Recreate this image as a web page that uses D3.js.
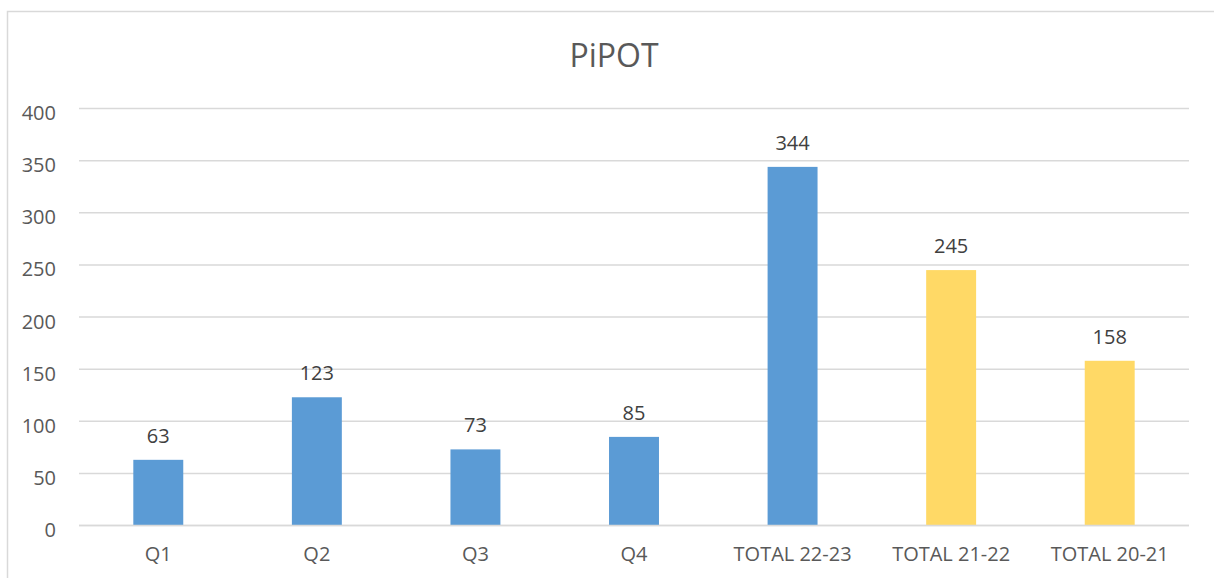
<!DOCTYPE html>
<html>
<head>
<meta charset="utf-8">
<script src="https://cdn.jsdelivr.net/npm/d3@7"></script>
<style>
  body { margin: 0; background: #fff; }
  text { font-family: "Open Sans", "Noto Sans", sans-serif; }
</style>
</head>
<body>
<div id="chart"></div>
<script>
// data
const categories = ["Q1", "Q2", "Q3", "Q4", "TOTAL 22-23", "TOTAL 21-22", "TOTAL 20-21"]
const values = [63, 123, 73, 85, 344, 245, 158]
const barColors = ["#5B9BD5", "#5B9BD5", "#5B9BD5", "#5B9BD5", "#5B9BD5", "#FFD966", "#FFD966"]
const yTicks = [0, 50, 100, 150, 200, 250, 300, 350, 400]

function drawBarChart() {
  let dimensions = {
    width: 1214,
    height: 578,
    margin: { top: 108.5, right: 25, bottom: 52.5, left: 79 },
  }
  dimensions.boundedWidth = dimensions.width - dimensions.margin.left - dimensions.margin.right
  dimensions.boundedHeight = dimensions.height - dimensions.margin.top - dimensions.margin.bottom

  const wrapper = d3.select("#chart")
    .append("svg")
      .attr("width", dimensions.width)
      .attr("height", dimensions.height)

  // chart frame
  wrapper.append("rect")
    .attr("x", 7.5)
    .attr("y", 11.5)
    .attr("width", 1250)
    .attr("height", 620)
    .attr("fill", "none")
    .attr("stroke", "#d9d9d9")
    .attr("stroke-width", 1.5)

  wrapper.append("text")
    .attr("x", 614)
    .attr("y", 67)
    .attr("text-anchor", "middle")
    .attr("fill", "#595959")
    .style("font-size", "32px")
    .text("PiPOT")

  const bounds = wrapper.append("g")
    .attr("transform", `translate(${dimensions.margin.left},${dimensions.margin.top})`)

  const yScale = d3.scaleLinear()
    .domain([0, 400])
    .range([dimensions.boundedHeight, 0])

  const xScale = d3.scaleBand()
    .domain(categories)
    .range([0, dimensions.boundedWidth])
    .paddingInner(0.685)
    .paddingOuter(0.3425)

  // gridlines
  bounds.selectAll(".grid")
    .data(yTicks)
    .join("line")
      .attr("class", "grid")
      .attr("x1", 0)
      .attr("x2", dimensions.boundedWidth)
      .attr("y1", d => yScale(d))
      .attr("y2", d => yScale(d))
      .attr("stroke", "#d9d9d9")
      .attr("stroke-width", 1.5)

  // y axis labels
  const yAxisGenerator = d3.axisLeft(yScale)
    .tickValues(yTicks)
    .tickSize(0)
    .tickPadding(23)
  const yAxis = bounds.append("g").call(yAxisGenerator)
  yAxis.select(".domain").remove()
  yAxis.selectAll("text")
    .attr("fill", "#595959")
    .attr("dy", "0.55em")
    .style("font-size", "20px")

  // bars
  bounds.selectAll(".bar")
    .data(values)
    .join("rect")
      .attr("class", "bar")
      .attr("x", (d, i) => xScale(categories[i]))
      .attr("y", d => yScale(d))
      .attr("width", xScale.bandwidth())
      .attr("height", d => dimensions.boundedHeight - yScale(d))
      .attr("fill", (d, i) => barColors[i])

  // zero line on top of bars
  bounds.append("line")
    .attr("x1", 0)
    .attr("x2", dimensions.boundedWidth)
    .attr("y1", yScale(0))
    .attr("y2", yScale(0))
    .attr("stroke", "#d9d9d9")
    .attr("stroke-width", 1.5)

  // data labels
  bounds.selectAll(".data-label")
    .data(values)
    .join("text")
      .attr("class", "data-label")
      .attr("x", (d, i) => xScale(categories[i]) + xScale.bandwidth() / 2)
      .attr("y", d => yScale(d) - 17)
      .attr("text-anchor", "middle")
      .attr("fill", "#404040")
      .style("font-size", "20px")
      .text(d => d)

  // x axis labels
  const xAxisGenerator = d3.axisBottom(xScale)
    .tickSize(0)
    .tickPadding(21)
  const xAxis = bounds.append("g")
    .attr("transform", `translate(0,${dimensions.boundedHeight})`)
    .call(xAxisGenerator)
  xAxis.select(".domain").remove()
  xAxis.selectAll("text")
    .attr("fill", "#595959")
    .style("font-size", "20px")
}

drawBarChart()
</script>
</body>
</html>
